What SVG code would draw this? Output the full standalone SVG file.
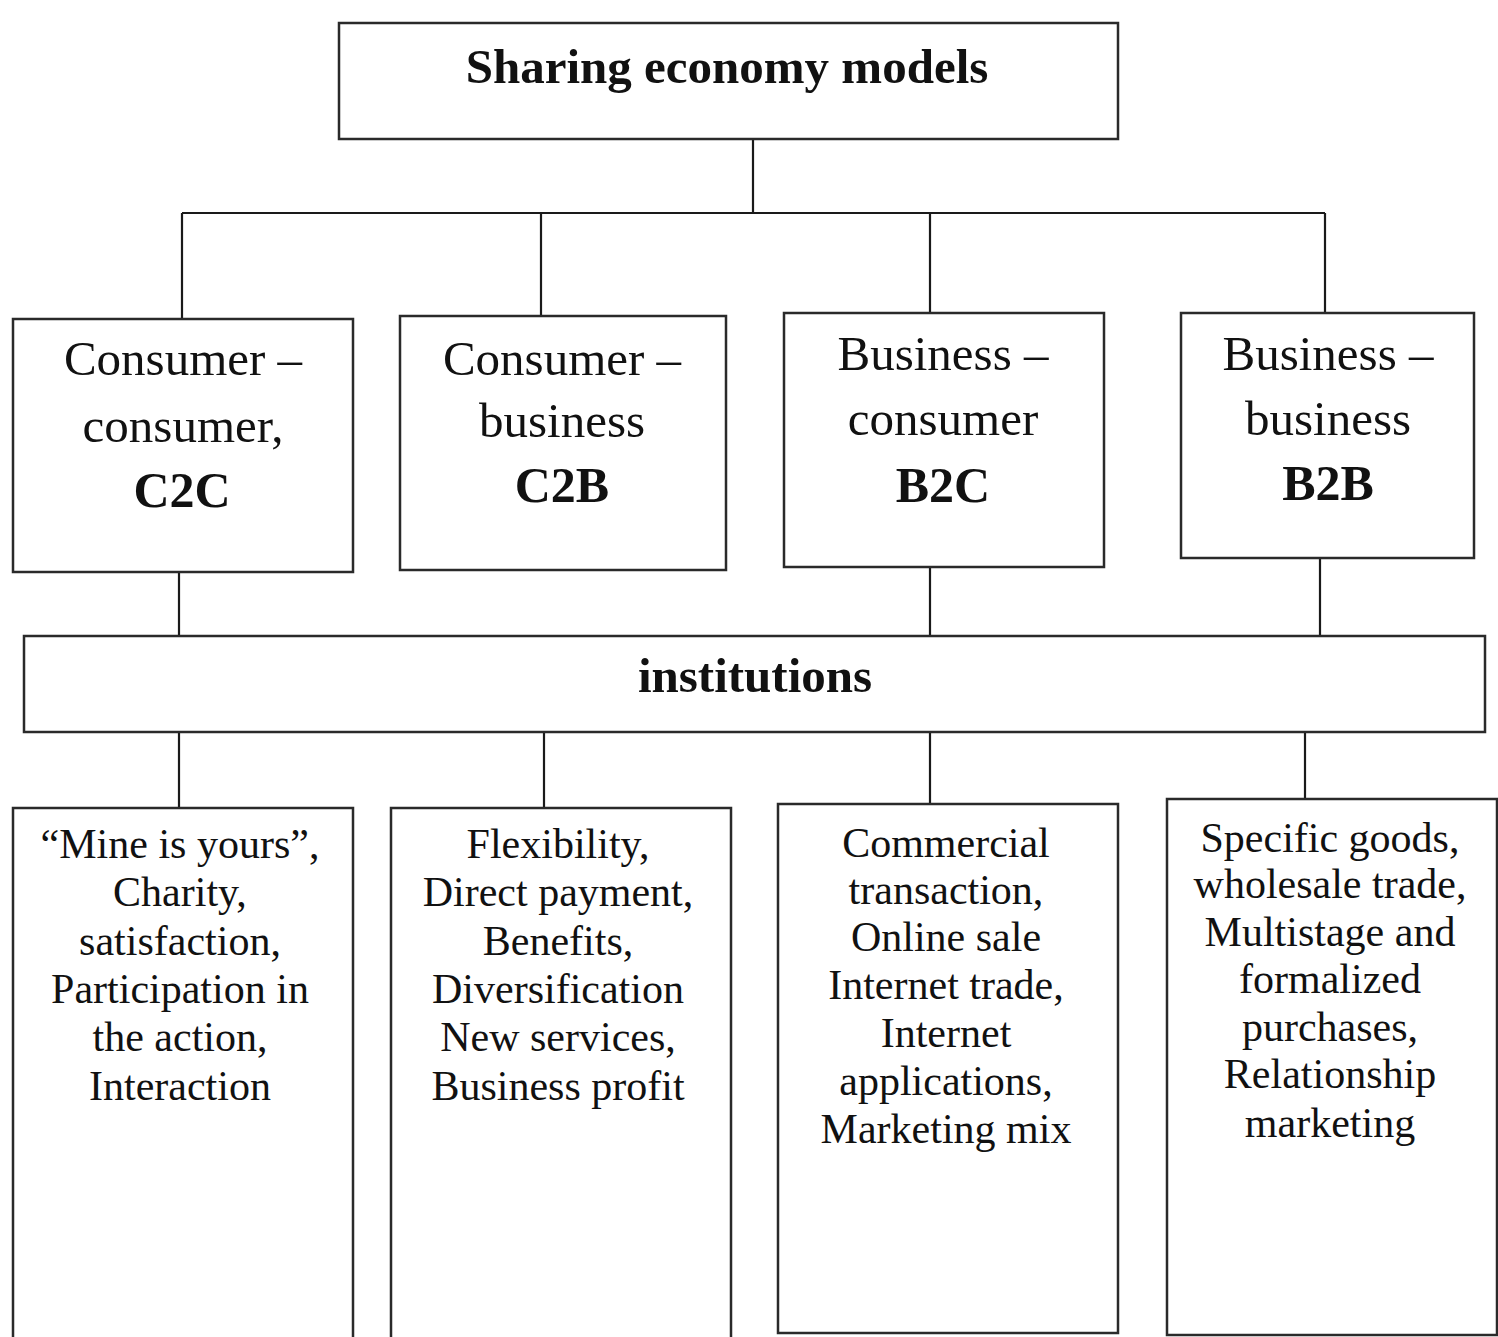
<svg xmlns="http://www.w3.org/2000/svg" width="1498" height="1337" viewBox="0 0 1498 1337">
<style>
.box{fill:#fff;stroke:#2a2a2a;stroke-width:2.5}
.ln{fill:none;stroke:#1a1a1a;stroke-width:2.2}
text{font-family:"Liberation Serif","Times New Roman",serif;fill:#111;text-anchor:middle}
.t{font-size:49px;font-weight:bold}
.m{font-size:49px}
.mb{font-size:50px;font-weight:bold}
.s{font-size:42px}
</style>
<rect width="1498" height="1337" fill="#fff"/>
<g id="connectors">
<path class="ln" d="M753 139V213M182 213H1325M182 213V319M541 213V316M930 213V313M1325 213V313"/>
<path class="ln" d="M179 572V636M930 567V636M1320 558V636"/>
<path class="ln" d="M179 732V808M544 732V808M930 732V804M1305 732V799"/>
</g>
<g id="root">
<rect class="box" x="339" y="23" width="779" height="116"/>
<text class="t" x="727" y="83">Sharing economy models</text>
</g>
<g id="c2c">
<rect class="box" x="13" y="319" width="340" height="253"/>
<text class="m" x="183" y="375">Consumer –</text>
<text class="m" x="183" y="442">consumer,</text>
<text class="mb" x="182" y="507">C2C</text>
</g>
<g id="c2b">
<rect class="box" x="400" y="316" width="326" height="254"/>
<text class="m" x="562" y="375">Consumer –</text>
<text class="m" x="562" y="437">business</text>
<text class="mb" x="562" y="502">C2B</text>
</g>
<g id="b2c">
<rect class="box" x="784" y="313" width="320" height="254"/>
<text class="m" x="943" y="370">Business –</text>
<text class="m" x="943" y="435">consumer</text>
<text class="mb" x="943" y="502">B2C</text>
</g>
<g id="b2b">
<rect class="box" x="1181" y="313" width="293" height="245"/>
<text class="m" x="1328" y="370">Business –</text>
<text class="m" x="1328" y="435">business</text>
<text class="mb" x="1328" y="500">B2B</text>
</g>
<g id="institutions">
<rect class="box" x="24" y="636" width="1461" height="96"/>
<text class="t" x="755" y="692">institutions</text>
</g>
<g id="c2c-features">
<rect class="box" x="13" y="808" width="340" height="540"/>
<text class="s" x="180" y="858">“Mine is yours”,</text>
<text class="s" x="180" y="906">Charity,</text>
<text class="s" x="180" y="955">satisfaction,</text>
<text class="s" x="180" y="1003">Participation in</text>
<text class="s" x="180" y="1051">the action,</text>
<text class="s" x="180" y="1100">Interaction</text>
</g>
<g id="c2b-features">
<rect class="box" x="391" y="808" width="340" height="540"/>
<text class="s" x="558" y="858">Flexibility,</text>
<text class="s" x="558" y="906">Direct payment,</text>
<text class="s" x="558" y="955">Benefits,</text>
<text class="s" x="558" y="1003">Diversification</text>
<text class="s" x="558" y="1051">New services,</text>
<text class="s" x="558" y="1100">Business profit</text>
</g>
<g id="b2c-features">
<rect class="box" x="778" y="804" width="340" height="529"/>
<text class="s" x="946" y="857">Commercial</text>
<text class="s" x="946" y="904">transaction,</text>
<text class="s" x="946" y="951">Online sale</text>
<text class="s" x="946" y="999">Internet trade,</text>
<text class="s" x="946" y="1047">Internet</text>
<text class="s" x="946" y="1095">applications,</text>
<text class="s" x="946" y="1143">Marketing mix</text>
</g>
<g id="b2b-features">
<rect class="box" x="1167" y="799" width="330" height="536"/>
<text class="s" x="1330" y="852">Specific goods,</text>
<text class="s" x="1330" y="898">wholesale trade,</text>
<text class="s" x="1330" y="946">Multistage and</text>
<text class="s" x="1330" y="993">formalized</text>
<text class="s" x="1330" y="1041">purchases,</text>
<text class="s" x="1330" y="1088">Relationship</text>
<text class="s" x="1330" y="1137">marketing</text>
</g>
</svg>
